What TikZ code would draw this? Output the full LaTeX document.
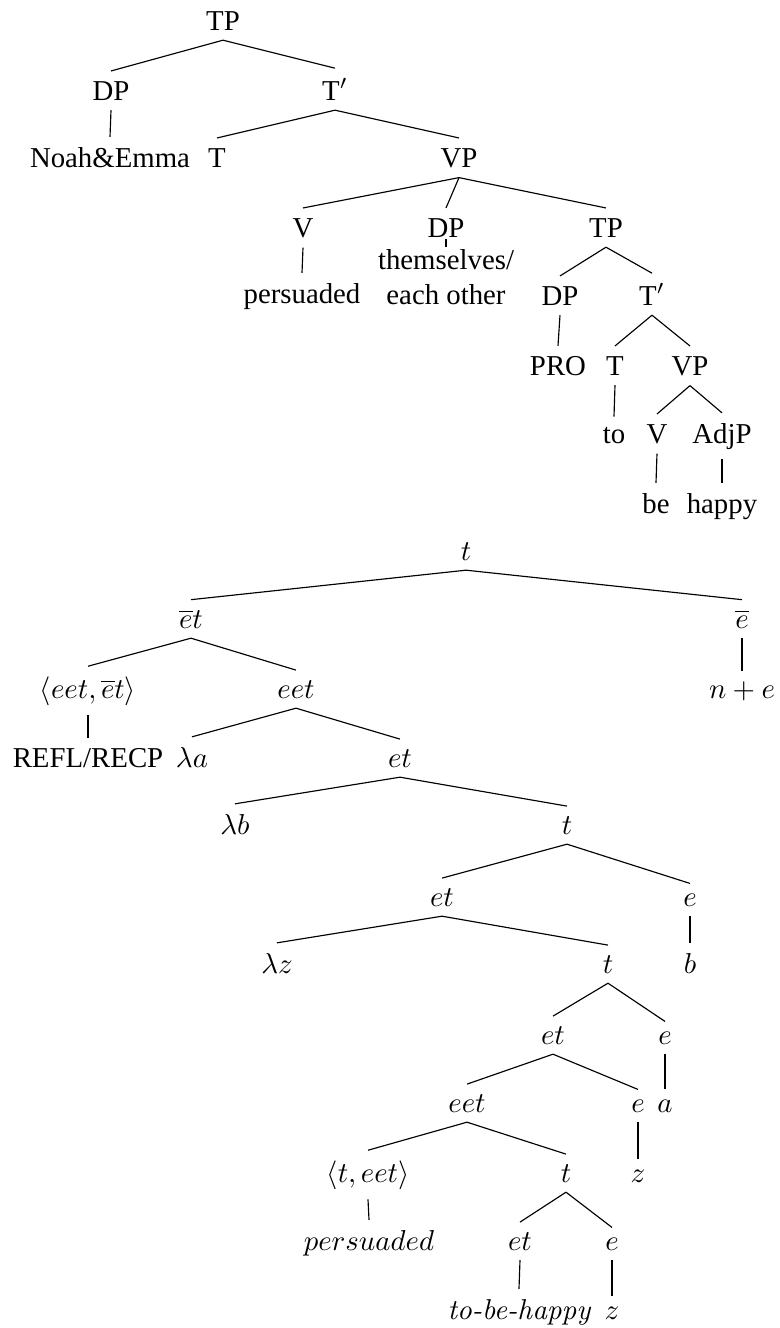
\documentclass[tikz,border=0pt]{standalone}
\usepackage[no-math]{fontspec}
\setmainfont{Liberation Serif}
\usepackage{tikz}

\newcommand{\cmit}[1]{{\fontencoding{OT1}\fontfamily{cmr}\selectfont\itshape #1}}
\tikzset{lbl/.style={anchor=base,inner sep=0.3333em}}

\begin{document}
\begin{tikzpicture}[x=0.3472pt,y=-0.3472pt]
\useasboundingbox (0,0) rectangle (779,1328);
% syntactic tree
\node[lbl] (tp) at (223,30) {TP};
\node[lbl] (dp) at (111,100) {DP};
\node[lbl] (tbar) at (335,100) {T$'$};
\node[lbl] (noah) at (110,167) {Noah\&Emma};
\node[lbl] (t) at (217,167) {T};
\node[lbl] (vp) at (459,167) {VP};
\node[lbl] (v) at (303,237) {V};
\node[lbl] (dpb) at (446,237) {DP};
\node[lbl] (tpb) at (606,237) {TP};
\node[lbl] (pers) at (302,303) {persuaded};
\node[lbl,align=center] (refl) at (446,304) {themselves/\\each other};
\node[lbl] (dpc) at (560,305) {DP};
\node[lbl] (tbarb) at (652,305) {T$'$};
\node[lbl] (pro) at (558,375) {PRO};
\node[lbl] (tc) at (615,375) {T};
\node[lbl] (vpb) at (690,375) {VP};
\node[lbl] (to) at (614,443) {to};
\node[lbl] (vc) at (657,443) {V};
\node[lbl] (adjp) at (722,443) {AdjP};
\node[lbl] (be) at (656,513) {be};
\node[lbl] (happy) at (722,513) {happy};
\draw (tp.south) -- (dp.north); \draw (tp.south) -- (tbar.north);
\draw (dp.south) -- (noah.north);
\draw (tbar.south) -- (t.north); \draw (tbar.south) -- (vp.north);
\draw (vp.south) -- (v.north); \draw (vp.south) -- (dpb.north); \draw (vp.south) -- (tpb.north);
\draw (v.south) -- (pers.north);
\draw (dpb.south) -- (refl.north);
\draw (tpb.south) -- (dpc.north); \draw (tpb.south) -- (tbarb.north);
\draw (dpc.south) -- (pro.north);
\draw (tbarb.south) -- (tc.north); \draw (tbarb.south) -- (vpb.north);
\draw (tc.south) -- (to.north);
\draw (vpb.south) -- (vc.north); \draw (vpb.south) -- (adjp.north);
\draw (vc.south) -- (be.north);
\draw (adjp.south) -- (happy.north);
% type tree
\node[lbl] (rt) at (466,560) {$t$};
\node[lbl] (etb) at (191,628) {$\overline{e}t$};
\node[lbl] (eb) at (742,628) {$\overline{e}$};
\node[lbl] (ne) at (742,698) {$n+e$};
\node[lbl] (rty) at (88,698) {$\langle eet,\overline{e}t\rangle$};
\node[lbl] (eet) at (296,698) {$eet$};
\node[lbl] (rflx) at (88,767) {REFL/RECP};
\node[lbl] (la) at (192,767) {$\lambda a$};
\node[lbl] (et) at (400,767) {$et$};
\node[lbl] (lb) at (235,834) {$\lambda b$};
\node[lbl] (tt) at (567,834) {$t$};
\node[lbl] (etc) at (442,906) {$et$};
\node[lbl] (ec) at (690,906) {$e$};
\node[lbl] (lz) at (277,973) {$\lambda z$};
\node[lbl] (td) at (608,973) {$t$};
\node[lbl] (b) at (690,973) {$b$};
\node[lbl] (etd) at (553,1044) {$et$};
\node[lbl] (ed) at (665,1044) {$e$};
\node[lbl] (eetb) at (467,1112) {$eet$};
\node[lbl] (ee) at (638,1112) {$e$};
\node[lbl] (a) at (665,1112) {$a$};
\node[lbl] (tty) at (368,1182) {$\langle t,eet\rangle$};
\node[lbl] (te) at (566,1182) {$t$};
\node[lbl] (z) at (638,1182) {$z$};
\node[lbl] (persb) at (369,1250) {$persuaded$};
\node[lbl] (ete) at (520,1250) {$et$};
\node[lbl] (ef) at (612,1250) {$e$};
\node[lbl] (tbh) at (519,1319) {\cmit{to-be-happy}};
\node[lbl] (zb) at (612,1319) {$z$};
\draw (rt.south) -- (etb.north); \draw (rt.south) -- (eb.north);
\draw (eb.south) -- (ne.north);
\draw (etb.south) -- (rty.north); \draw (etb.south) -- (eet.north);
\draw (rty.south) -- (rflx.north);
\draw (eet.south) -- (la.north); \draw (eet.south) -- (et.north);
\draw (et.south) -- (lb.north); \draw (et.south) -- (tt.north);
\draw (tt.south) -- (etc.north); \draw (tt.south) -- (ec.north);
\draw (ec.south) -- (b.north);
\draw (etc.south) -- (lz.north); \draw (etc.south) -- (td.north);
\draw (td.south) -- (etd.north); \draw (td.south) -- (ed.north);
\draw (ed.south) -- (a.north);
\draw (etd.south) -- (eetb.north); \draw (etd.south) -- (ee.north);
\draw (ee.south) -- (z.north);
\draw (eetb.south) -- (tty.north); \draw (eetb.south) -- (te.north);
\draw (tty.south) -- (persb.north);
\draw (te.south) -- (ete.north); \draw (te.south) -- (ef.north);
\draw (ete.south) -- (tbh.north);
\draw (ef.south) -- (zb.north);
\end{tikzpicture}
\end{document}
